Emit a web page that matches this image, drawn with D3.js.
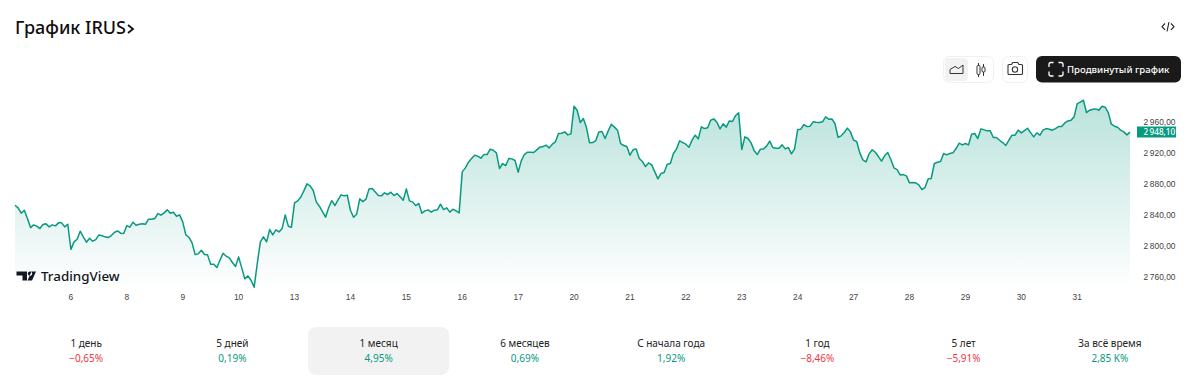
<!DOCTYPE html>
<html lang="ru">
<head>
<meta charset="utf-8">
<title>График IRUS</title>
<script src="https://d3js.org/d3.v7.min.js"></script>
<style>
	html,body{margin:0;padding:0;background:#fff;overflow:hidden}
	svg{display:block;font-family:"Noto Sans",sans-serif}
	.axis .domain,.axis line{display:none}
	.axis text{fill:#444;font-size:8.4px}
</style>
</head>
<body>
<div id="chart"></div>
<script>
const title = 'График IRUS';
const lastPrice = 2948.10;

//one close per bar, 18 bars per trading day
const prices = [
	2852.3,2848.9,2842.0,2845.8,2835.1,2823.4,2826.9,2825.2,2822.1,2827.3,2828.2,2824.3,2826.9,2825.6,2829.5,2829.5,2824.3,2827.7,
	2795.0,2804.9,2808.3,2818.7,2811.4,2804.5,2809.6,2805.8,2807.9,2813.9,2812.7,2811.4,2810.5,2813.1,2817.0,2819.1,2816.1,2815.7,
	2826.0,2823.9,2830.3,2826.4,2827.7,2828.2,2827.7,2834.2,2834.2,2835.1,2841.5,2839.4,2842.4,2846.3,2842.0,2843.3,2838.1,2839.8,
	2830.8,2813.9,2810.9,2803.6,2788.5,2789.4,2794.1,2788.5,2788.1,2776.0,2776.0,2771.7,2781.2,2790.2,2786.4,2784.2,2778.2,2773.0,
	2785.5,2771.3,2757.1,2760.9,2755.3,2746.3,2776.9,2804.9,2811.4,2804.9,2820.8,2813.9,2820.4,2817.8,2822.1,2839.8,2825.2,2823.9,
	2855.3,2857.9,2862.6,2870.8,2879.9,2877.3,2871.7,2856.6,2851.0,2844.1,2836.8,2849.3,2858.3,2851.9,2859.2,2865.7,2864.4,2865.2,
	2845.8,2836.8,2840.7,2860.5,2857.0,2860.1,2873.4,2873.9,2869.5,2864.8,2864.4,2868.3,2866.1,2869.1,2864.8,2867.4,2863.1,2858.8,
	2873.4,2857.9,2856.6,2851.9,2854.5,2842.0,2845.0,2846.3,2843.3,2845.8,2846.3,2853.6,2846.7,2848.9,2843.3,2847.1,2845.0,2842.4,
	2895.4,2900.6,2907.9,2912.6,2917.0,2915.7,2913.1,2917.8,2917.8,2924.7,2923.4,2920.0,2899.7,2906.2,2903.6,2912.6,2912.2,2910.1,
	2895.0,2909.6,2917.8,2920.8,2920.8,2920.4,2923.9,2927.3,2928.2,2929.9,2926.4,2931.2,2934.2,2945.0,2945.4,2947.1,2943.2,2944.5,
	2980.3,2975.1,2959.2,2964.4,2952.7,2932.9,2933.3,2935.9,2947.1,2947.6,2938.5,2948.4,2957.0,2953.2,2949.3,2932.0,2929.5,2928.2,
	2917.0,2923.9,2925.1,2912.6,2908.8,2902.3,2907.0,2904.5,2895.4,2886.4,2893.3,2894.5,2905.3,2906.2,2919.1,2925.1,2935.5,2933.3,
	2931.2,2927.3,2936.4,2942.8,2938.1,2953.6,2951.4,2952.3,2962.2,2963.9,2959.6,2951.0,2957.5,2953.2,2961.3,2960.5,2968.2,2971.7,
	2924.3,2940.7,2938.5,2932.9,2922.6,2917.8,2924.7,2925.1,2928.6,2935.1,2926.9,2926.0,2926.0,2930.3,2925.1,2926.9,2918.7,2925.1,
	2950.1,2950.6,2956.6,2954.0,2954.5,2960.1,2959.6,2959.2,2960.1,2966.5,2963.5,2963.9,2957.9,2940.2,2942.0,2946.3,2951.9,2947.1,
	2936.4,2934.6,2920.0,2910.9,2908.3,2918.7,2923.9,2920.8,2915.2,2909.2,2916.1,2920.4,2911.4,2900.6,2898.4,2891.5,2891.9,2890.2,
	2881.2,2881.6,2881.2,2878.6,2872.5,2875.1,2886.3,2886.8,2906.2,2907.9,2908.8,2919.1,2917.4,2919.1,2920.0,2925.6,2932.5,2930.3,
	2932.0,2930.3,2944.1,2945.0,2938.5,2951.0,2949.7,2948.4,2948.4,2939.8,2939.8,2936.3,2933.3,2929.4,2936.3,2942.8,2942.8,2949.3,
	2945.8,2948.8,2951.8,2946.2,2940.6,2945.8,2942.8,2949.3,2951.4,2950.6,2949.3,2951.4,2954.0,2954.0,2958.7,2961.3,2962.2,2966.5,
	2983.7,2985.5,2988.0,2972.1,2975.1,2976.4,2976.8,2975.1,2980.3,2979.0,2972.1,2957.0,2954.4,2953.1,2949.3,2947.1,2943.2,2946.7
];

const dayLabels = [6,8,9,10,13,14,15,16,17,20,21,22,23,24,27,28,29,30,31];
const priceTicks = [2760,2800,2840,2880,2920,2960];

const periods = ['1 день','5 дней','1 месяц','6 месяцев','С начала года','1 год','5 лет','За всё время'];
const changes = ['−0,65%','0,19%','4,95%','0,69%','1,92%','−8,46%','−5,91%','2,85 K%'];
const isUp = [false,true,true,true,true,false,false,true];
const activePeriod = '1 месяц';

const width = 1200;
const height = 382;
const up = '#089981';
const down = '#f23645';

const svg = d3.select('#chart')
	.append('svg')
	.attr('width',width)
	.attr('height',height);

//Scales
const scaleX = d3.scaleLinear().domain([0,prices.length-1]).range([15,1130]);
const scaleY = d3.scaleLinear().domain([2760,2960]).range([276.6,121.9]);
const barsPerDay = 18;

//Shape generators
const areaGenerator = d3.area()
	.x((d,i) => scaleX(i))
	.y0(288)
	.y1(d => scaleY(d));
const lineGenerator = d3.line()
	.x((d,i) => scaleX(i))
	.y(d => scaleY(d));

const gradient = svg.append('defs')
	.append('linearGradient')
	.attr('id','fade')
	.attr('gradientUnits','userSpaceOnUse')
	.attr('x1',0).attr('x2',0)
	.attr('y1',scaleY(d3.max(prices)))
	.attr('y2',288);
gradient.append('stop').attr('offset',0).attr('stop-color',up).attr('stop-opacity',.28);
gradient.append('stop').attr('offset',1).attr('stop-color',up).attr('stop-opacity',0);

svg.append('path')
	.attr('d',areaGenerator(prices))
	.attr('fill','url(#fade)');
svg.append('path')
	.attr('d',lineGenerator(prices))
	.attr('fill','none')
	.attr('stroke',up)
	.attr('stroke-width',1.5)
	.attr('stroke-linejoin','round');

//Axes
const priceFormat = d3.formatLocale({decimal:',',thousands:'\u2009',grouping:[3],currency:['','']}).format(',.2f');
const axisY = d3.axisRight(scaleY)
	.tickValues(priceTicks)
	.tickFormat(priceFormat)
	.tickSize(0)
	.tickPadding(0);
svg.append('g')
	.attr('class','axis')
	.attr('transform','translate(1143.5,0)')
	.call(axisY);

const axisX = d3.axisBottom(scaleX)
	.tickValues(dayLabels.map((d,i) => (i+1)*barsPerDay))
	.tickFormat((d,i) => dayLabels[i])
	.tickSize(0)
	.tickPadding(0);
svg.append('g')
	.attr('class','axis')
	.attr('transform','translate(-0.5,294)')
	.call(axisX);

//Last price badge
svg.append('rect')
	.attr('x',1137).attr('y',126.500)
	.attr('width',39).attr('height',11)
	.attr('fill',up);
svg.append('text')
	.attr('x',1143.5).attr('y',132)
	.attr('dy','.35em')
	.attr('fill','#fff')
	.attr('font-size',8.200)
	.attr('font-weight',500)
	.text(priceFormat(lastPrice));

//Header
const head = svg.append('g');
head.append('text')
	.attr('x',15).attr('y',33.500)
	.attr('font-size',18)
	.attr('font-weight',500)
	.attr('fill','#0f0f0f')
	.text(title);
head.append('path')
	.attr('d','M128 25l5 4-5 4')
	.attr('fill','none')
	.attr('stroke','#0f0f0f')
	.attr('stroke-width',1.8);
head.append('path')
	.attr('d','M1165 23.500l-3 3.200 3 3.200M1171 23.500l3 3.200-3 3.200M1169 22l-2 9.500')
	.attr('fill','none')
	.attr('stroke','#222')
	.attr('stroke-width',1.1);

//Toolbar
const tools = svg.append('g');
tools.append('rect')
	.attr('x',943.5).attr('y',56.5).attr('width',50).attr('height',26).attr('rx',6)
	.attr('fill','#fff').attr('stroke','#f0f0f0');
tools.append('rect')
	.attr('x',945).attr('y',58).attr('width',23).attr('height',23).attr('rx',4)
	.attr('fill','#f2f2f2');
tools.append('path')
	.attr('d','M950 73.500v-4l5-3 3.500 2 4.500-3.500v8.500z')
	.attr('fill','none').attr('stroke','#333').attr('stroke-width',1);
tools.append('path')
	.attr('d','M978.500 63v14M983.500 64v12')
	.attr('stroke','#333').attr('stroke-width',1);
tools.append('rect')
	.attr('x',977).attr('y',65.500).attr('width',3).attr('height',9).attr('rx',1)
	.attr('fill','#fff').attr('stroke','#333');
tools.append('rect')
	.attr('x',982).attr('y',67).attr('width',3).attr('height',5).attr('rx',1)
	.attr('fill','#fff').attr('stroke','#333');
tools.append('rect')
	.attr('x',1002.5).attr('y',56.5).attr('width',25).attr('height',26).attr('rx',6)
	.attr('fill','#fff').attr('stroke','#f0f0f0');
tools.append('path')
	.attr('d','M1009 64.500h2.500l1.200-2h5l1.200 2h2.600a1 1 0 0 1 1 1v8a1 1 0 0 1-1 1h-12.500a1 1 0 0 1-1-1v-8a1 1 0 0 1 1-1z')
	.attr('fill','none').attr('stroke','#333').attr('stroke-width',1.1);
tools.append('circle')
	.attr('cx',1015).attr('cy',69.500).attr('r',2.700)
	.attr('fill','none').attr('stroke','#333').attr('stroke-width',1.1);
tools.append('rect')
	.attr('x',1036).attr('y',56).attr('width',145).attr('height',26.500).attr('rx',6)
	.attr('fill','#1a1a1a');
tools.append('path')
	.attr('d','M1049 67v-2.500a2 2 0 0 1 2-2h2.500M1058.500 62.500h2.500a2 2 0 0 1 2 2v2.500M1063 71.500v2.500a2 2 0 0 1-2 2h-2.500M1053.500 76h-2.500a2 2 0 0 1-2-2v-2.500')
	.attr('fill','none').attr('stroke','#fff').attr('stroke-width',1.3);
tools.append('text')
	.attr('x',1067).attr('y',72.500)
	.attr('font-size',9.600)
	.attr('font-weight',500)
	.attr('fill','#fff')
	.text('Продвинутый график');

//TradingView mark
const logo = svg.append('g').attr('transform','translate(16.5,271.5)');
logo.append('path')
	.attr('d','M0 0h10.500v9h-4.500v-5h-6zM13.500 0a2.200 2.200 0 1 0 .01 0zM15 0h4.500l-4 9h-4.500z')
	.attr('fill','#131722');
logo.append('text')
	.attr('x',24.500).attr('y',9)
	.attr('font-size',13.400)
	.attr('font-weight',500)
	.attr('fill','#131722')
	.text('TradingView');

//Period table
const scalePeriod = d3.scaleBand().domain(periods).range([13,1183]);
const cells = svg.append('g')
	.selectAll('g')
	.data(periods)
	.enter()
	.append('g')
	.attr('transform',d => `translate(${scalePeriod(d)+scalePeriod.bandwidth()/2},0)`);
cells.filter(d => d === activePeriod)
	.append('rect')
	.attr('x',-70.500).attr('y',327)
	.attr('width',141).attr('height',48)
	.attr('rx',8)
	.attr('fill','#f2f2f2');
cells.append('text')
	.attr('y',346.500)
	.attr('text-anchor','middle')
	.attr('font-size',10)
	.attr('fill','#222')
	.text(d => d);
cells.append('text')
	.attr('y',362)
	.attr('text-anchor','middle')
	.attr('font-size',10)
	.attr('fill',(d,i) => isUp[i] ? up : down)
	.text((d,i) => changes[i]);
</script>
</body>
</html>
